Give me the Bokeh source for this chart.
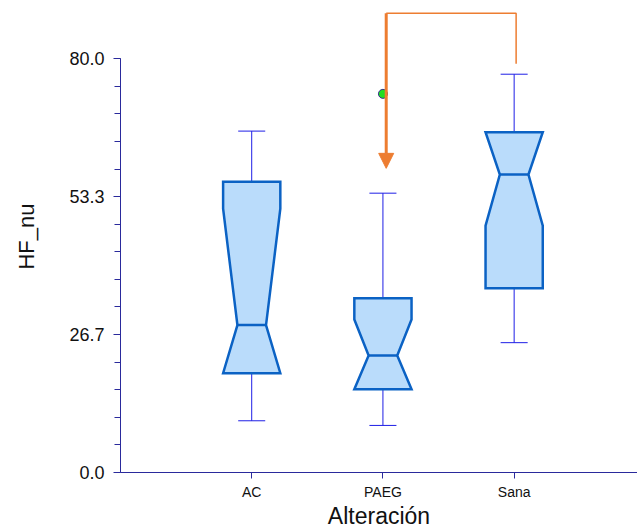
from bokeh.plotting import figure
from bokeh.models import (Range1d, FixedTicker, NumeralTickFormatter, Arrow,
                          NormalHead)
from bokeh.embed import file_html
from bokeh.resources import INLINE

# ---- data ----
categories = ["AC", "PAEG", "Sana"]
whisker_lo = [10.0, 9.1, 25.1]
q1 = [19.2, 16.1, 35.6]
median = [28.5, 22.6, 57.6]
q3 = [56.2, 33.7, 65.8]
whisker_hi = [66.0, 54.0, 77.0]
notch_lo = [19.2, 16.1, 47.7]
notch_hi = [51.0, 29.6, 65.8]
outlier_cat = ["PAEG"]
outlier_val = [73.2]
y_ticks = [0.0, 26.67, 53.33, 80.0]

# annotation (comparison bracket) values
bracket_from = "PAEG"
bracket_to = "Sana"
bracket_top = 88.8
arrow_tip = 58.8
bracket_end = 79.0

FONT = "Liberation Sans"
AXIS_COLOR = "#2A2A9C"
BOX_LINE = "#0B62C4"
BOX_FILL = "#BADCFB"
WHISKER = "#1E1EE6"
ORANGE = "#ED7D31"

pos = {c: i + 1 for i, c in enumerate(categories)}
xc = [pos[c] for c in categories]

p = figure(width=637, height=531, output_backend="svg", toolbar_location=None,
           x_range=Range1d(0, 3.94), y_range=Range1d(0, 91.25),
           min_border_left=120, min_border_right=0, min_border_top=0,
           min_border_bottom=58)
p.grid.visible = False
p.outline_line_color = None
p.background_fill_color = "white"
p.border_fill_color = "white"

# boxes with notches
bw = 0.218
nw = 0.109
cw = 0.103
xs, ys = [], []
for c, a, m, b, nl, nh in zip(xc, q1, median, q3, notch_lo, notch_hi):
    lo = max(nl, a)
    hi = min(nh, b)
    xs.append([c - bw, c + bw, c + bw, c + nw, c + bw, c + bw,
               c - bw, c - bw, c - nw, c - bw])
    ys.append([b, b, hi, m, lo, a, a, lo, m, hi])

# whiskers
p.segment(x0=xc, y0=q3, x1=xc, y1=whisker_hi, line_color=WHISKER, line_width=1)
p.segment(x0=xc, y0=whisker_lo, x1=xc, y1=q1, line_color=WHISKER, line_width=1)
p.segment(x0=[c - cw for c in xc], y0=whisker_hi, x1=[c + cw for c in xc],
          y1=whisker_hi, line_color=WHISKER, line_width=1)
p.segment(x0=[c - cw for c in xc], y0=whisker_lo, x1=[c + cw for c in xc],
          y1=whisker_lo, line_color=WHISKER, line_width=1)

p.patches(xs=xs, ys=ys, fill_color=BOX_FILL, line_color=BOX_LINE,
          line_width=2.5, line_join="miter")
p.segment(x0=[c - nw for c in xc], y0=median, x1=[c + nw for c in xc],
          y1=median, line_color=BOX_LINE, line_width=2.5)

# outlier
p.scatter(x=[pos[c] for c in outlier_cat], y=outlier_val, size=9,
          fill_color="#22DD22", line_color="#33338A", line_width=1)

# bracket + arrow
xa = pos[bracket_from] + 0.025
xb = pos[bracket_to] + 0.015
p.line(x=[xa, xb, xb], y=[bracket_top, bracket_top, bracket_end],
       line_color=ORANGE, line_width=1.5)
p.add_layout(Arrow(end=NormalHead(size=15, fill_color=ORANGE,
                                  line_color=ORANGE),
                   x_start=xa, y_start=bracket_top, x_end=xa, y_end=arrow_tip,
                   line_color=ORANGE, line_width=3))

# axes
xa_ = p.xaxis[0]
xa_.ticker = FixedTicker(ticks=xc)
xa_.major_label_overrides = {pos[c]: c for c in categories}
xa_.axis_label = "Alteración"

ya_ = p.yaxis[0]
ya_.ticker = FixedTicker(ticks=y_ticks,
                         minor_ticks=[i * 80 / 15 for i in range(16)])
ya_.formatter = NumeralTickFormatter(format="0.0")
ya_.axis_label = "HF_nu"
ya_.bounds = (0, 80)

for ax in (xa_, ya_):
    ax.axis_line_color = AXIS_COLOR
    ax.axis_line_width = 1
    ax.major_tick_line_color = AXIS_COLOR
    ax.minor_tick_line_color = AXIS_COLOR if ax is ya_ else None
    ax.major_tick_in = 0
    ax.minor_tick_in = 0
    ax.axis_label_text_font = FONT
    ax.axis_label_text_font_style = "normal"
    ax.axis_label_text_color = "#111111"
    ax.major_label_text_font = FONT
    ax.major_label_text_color = "#111111"

xa_.major_tick_out = 6
xa_.major_label_text_font_size = "14px"
xa_.major_label_standoff = 5
xa_.axis_label_text_font_size = "23px"
xa_.axis_label_standoff = 0

ya_.major_tick_out = 7
ya_.minor_tick_out = 6
ya_.major_label_text_font_size = "18px"
ya_.major_label_standoff = 9
ya_.axis_label_text_font_size = "22px"
ya_.axis_label_standoff = 27

open("out.html", "w").write(file_html(p, INLINE))
